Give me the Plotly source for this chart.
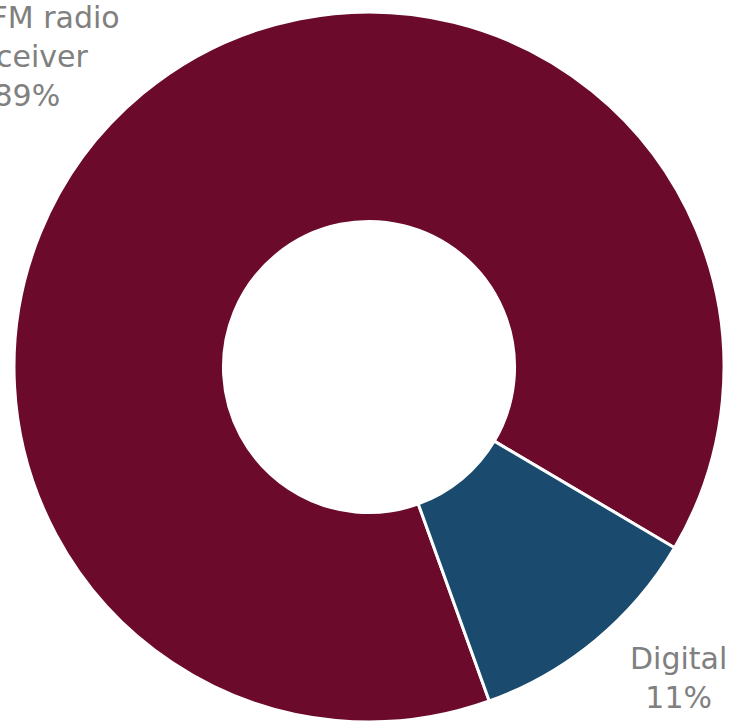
import plotly.graph_objects as go

# Share of listening by device
labels = ["AM/FM radio receiver", "Digital"]
values = [89, 11]
colors = ["#6C0A2B", "#1A4A6E"]
label_text = ["AM/FM radio<br>receiver<br>89%", "Digital<br>11%"]

W, H = 733, 722

fig = go.Figure(
    go.Pie(
        labels=labels,
        values=values,
        hole=0.41,
        sort=False,
        direction="clockwise",
        rotation=160.2,
        marker=dict(colors=colors, line=dict(color="white", width=3)),
        textinfo="none",
        hoverinfo="label+percent",
        domain=dict(x=[14 / W, 724 / W], y=[0, 710 / H]),
        showlegend=False,
    )
)

label_font = dict(family="DejaVu Sans", size=30, color="#808080")
fig.add_annotation(
    text=label_text[0], xref="paper", yref="paper",
    x=27 / W, y=1 - 56 / H, xanchor="center", yanchor="middle",
    showarrow=False, align="center", font=label_font,
)
fig.add_annotation(
    text=label_text[1], xref="paper", yref="paper",
    x=678 / W, y=1 - 678 / H, xanchor="center", yanchor="middle",
    showarrow=False, align="center", font=label_font,
)

fig.update_layout(
    width=W, height=H,
    margin=dict(l=0, r=0, t=0, b=0),
    paper_bgcolor="white", plot_bgcolor="white",
)

fig.write_html("out.html")
